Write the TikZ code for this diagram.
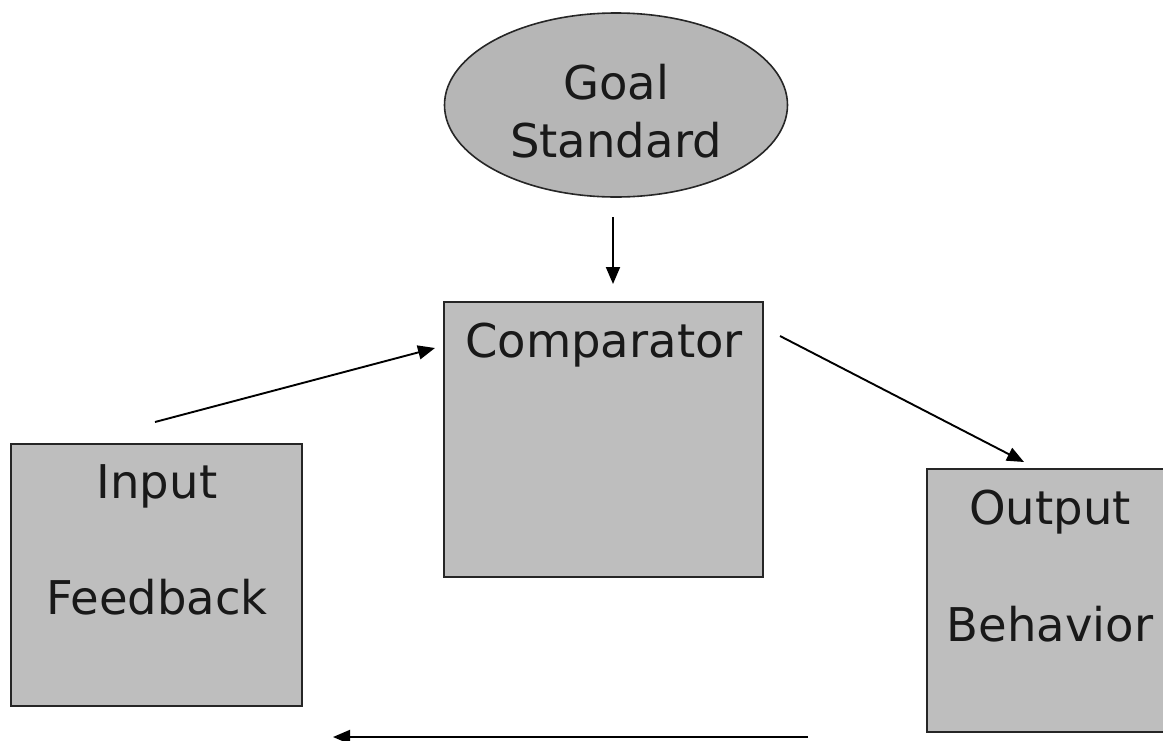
\documentclass[tikz,border=0pt]{standalone}
\usepackage{fontspec}
\setmainfont{DejaVu Sans}
\usetikzlibrary{shapes.geometric,arrows.meta}
\definecolor{boxgray}{RGB}{190,190,190}
\definecolor{ellgray}{RGB}{182,182,182}
\begin{document}
\begin{tikzpicture}[x=1pt,y=-1pt,
  box/.style={draw=black!85,line width=1.6pt,fill=boxgray,rectangle,inner sep=0pt},
  lbl/.style={font=\fontsize{46.5}{52}\selectfont,text=black!90,inner sep=0pt,anchor=center},
  arr/.style={line width=1.9pt,-{Triangle[length=17pt,width=14pt]}}]
\useasboundingbox (0,0) rectangle (1163,740);
% shapes
\node[draw=black!85,line width=1.6pt,fill=ellgray,ellipse,minimum width=343pt,minimum height=184pt,inner sep=0pt] (goal) at (616,105) {};
\node[box,minimum width=319pt,minimum height=275pt] (comp) at (603.5,439.5) {};
\node[box,minimum width=291pt,minimum height=262pt] (input) at (156.5,575) {};
\node[box,minimum width=240pt,minimum height=263pt] (output) at (1047,600.5) {};
% texts
\node[lbl] (tgoal) at (616,82) {Goal};
\node[lbl] (tstd) at (616,140) {Standard};
\node[lbl] (tcomp) at (604,345) {Comparator};
\node[lbl] (tin) at (157,486) {Input};
\node[lbl] (tfb) at (157,597) {Feedback};
\node[lbl] (tout) at (1050,512) {Output};
\node[lbl] (tbeh) at (1050,624) {Behavior};
% connector end points
\coordinate (g1) at (613,217);
\coordinate (g2) at (613,284);
\coordinate (i1) at (155,422);
\coordinate (i2) at (435,348);
\coordinate (c1) at (780,336);
\coordinate (c2) at (1024,462);
\coordinate (b1) at (808,737);
\coordinate (b2) at (333,737);
% connectors
\draw[arr] (g1) -- (g2);
\draw[arr] (i1) -- (i2);
\draw[arr] (c1) -- (c2);
\draw[arr] (b1) -- (b2);
\end{tikzpicture}
\end{document}
